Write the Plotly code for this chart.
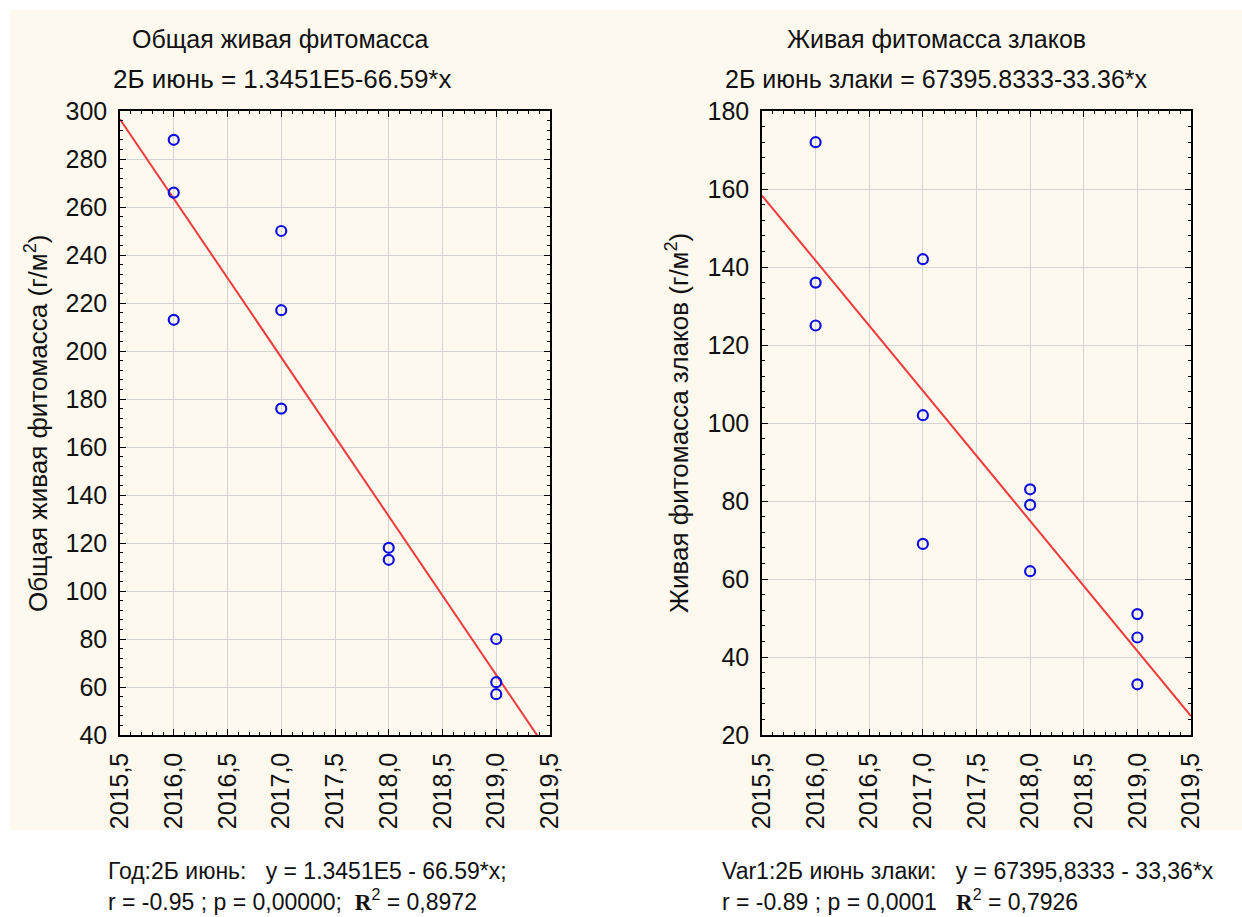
import numpy as np
import plotly.graph_objects as go

# ---- data ----
years_left = [2016, 2016, 2016, 2017, 2017, 2017, 2018, 2018, 2019, 2019, 2019]
total_biomass = [288, 266, 213, 250, 217, 176, 118, 113, 80, 62, 57]

years_right = [2016, 2016, 2016, 2017, 2017, 2017, 2018, 2018, 2018, 2019, 2019, 2019]
grass_biomass = [172, 136, 125, 142, 102, 69, 83, 79, 62, 51, 45, 33]

x_ticks = [2015.5, 2016.0, 2016.5, 2017.0, 2017.5, 2018.0, 2018.5, 2019.0, 2019.5]
x_range = [2015.5, 2019.5]
left_y_range = [40, 300]
right_y_range = [20, 180]

title_left = ["Общая живая фитомасса", "2Б июнь = 1.3451E5-66.59*x"]
title_right = ["Живая фитомасса злаков", "2Б июнь злаки = 67395.8333-33.36*x"]
ytitle_left = "Общая живая фитомасса (г/м<sup>2</sup>)"
ytitle_right = "Живая фитомасса злаков (г/м<sup>2</sup>)"
R_SYM = "<b><span style=\"font-family:'Liberation Serif', serif\">R</span></b><sup>2</sup>"
caption_left = ["Год:2Б июнь:\u00a0\u00a0\u00a0y = 1.3451E5 - 66.59*x;",
                "r = -0.95 ; p = 0,00000;\u00a0\u00a0" + R_SYM + " = 0,8972"]
caption_right = ["Var1:2Б июнь злаки:\u00a0\u00a0\u00a0y = 67395,8333 - 33,36*x",
                 "r = -0.89 ; p = 0,0001\u00a0\u00a0\u00a0" + R_SYM + " = 0,7926"]

W, H = 1242, 917
FONT = "Liberation Sans, Arial, sans-serif"
CREAM = "#FEF9EE"
BLUE = "#1010E0"
RED = "#EE3B3B"
TXT = "#111111"


def px_x(p):
    return p / W


def px_y(p):
    return 1 - p / H


fig = go.Figure()

for xs, ys, xa, ya in [(years_left, total_biomass, "x", "y"),
                       (years_right, grass_biomass, "x2", "y2")]:
    slope, intercept = np.polyfit(xs, ys, 1)
    lx = np.array(x_range)
    fig.add_trace(go.Scatter(x=lx, y=intercept + slope * lx, mode="lines",
                             line=dict(color=RED, width=2), xaxis=xa, yaxis=ya,
                             showlegend=False, hoverinfo="skip"))
    fig.add_trace(go.Scatter(x=xs, y=ys, mode="markers",
                             marker=dict(symbol="circle-open", size=10, color=BLUE,
                                         line=dict(width=2.2, color=BLUE)),
                             xaxis=xa, yaxis=ya, showlegend=False))

axis_common = dict(showline=True, linecolor="black", linewidth=1.5, mirror="allticks",
                   ticks="inside", ticklen=6, tickcolor="black", tickwidth=1,
                   showgrid=True, gridcolor="#D4D4D4", gridwidth=1.2, zeroline=False,
                   automargin=False,
                   tickfont=dict(family=FONT, size=25, color=TXT))

xminor = dict(dtick=0.1, ticks="inside", ticklen=3, tickcolor="black", showgrid=False)
yminor = dict(dtick=4, ticks="inside", ticklen=3, tickcolor="black", showgrid=False)

xdom_l = [px_x(120), px_x(550)]
xdom_r = [px_x(762), px_x(1191)]
ydom = [px_y(735), px_y(111)]

fig.update_layout(
    width=W, height=H,
    margin=dict(l=0, r=0, t=0, b=0),
    paper_bgcolor="white", plot_bgcolor="white",
    separators=", ",
    xaxis=dict(domain=xdom_l, anchor="y", range=x_range, tickvals=x_ticks, tickformat=".1f",
               tickangle=-90, minor=xminor, ticklabelstandoff=6, **axis_common),
    yaxis=dict(domain=ydom, anchor="x", range=left_y_range, dtick=20, minor=yminor,
               ticklabelstandoff=6, **axis_common),
    xaxis2=dict(domain=xdom_r, anchor="y2", range=x_range, tickvals=x_ticks, tickformat=".1f",
                tickangle=-90, minor=xminor, ticklabelstandoff=6, **axis_common),
    yaxis2=dict(domain=ydom, anchor="x2", range=right_y_range, dtick=20, minor=yminor,
                ticklabelstandoff=6, **axis_common),
    shapes=[dict(type="rect", xref="paper", yref="paper", layer="below",
                 x0=px_x(10), x1=1.0, y0=px_y(830), y1=px_y(10),
                 fillcolor=CREAM, line=dict(width=0))],
)


def add_text(text, x, y, size, xanchor="center", angle=0):
    fig.add_annotation(xref="paper", yref="paper", x=px_x(x), y=px_y(y), text=text,
                       showarrow=False, xanchor=xanchor, yanchor="middle", align="left",
                       textangle=angle, font=dict(family=FONT, size=size, color=TXT))


# chart titles
add_text(title_left[0], 280, 39, 25)
add_text(title_left[1], 282, 79, 26)
add_text(title_right[0], 936, 39, 25)
add_text(title_right[1], 936, 79, 25)

# y axis titles
add_text(ytitle_left, 36, 423, 26, angle=-90)
add_text(ytitle_right, 677, 423, 26, angle=-90)

# captions below the charts
add_text(caption_left[0], 106, 871, 23, xanchor="left")
add_text(caption_left[1], 106, 900, 23, xanchor="left")
add_text(caption_right[0], 720, 871, 23, xanchor="left")
add_text(caption_right[1], 720, 900, 23, xanchor="left")

fig.write_html("out.html", config={"displayModeBar": False},
               post_script="document.body.style.margin='0';document.body.style.overflow='hidden';")
